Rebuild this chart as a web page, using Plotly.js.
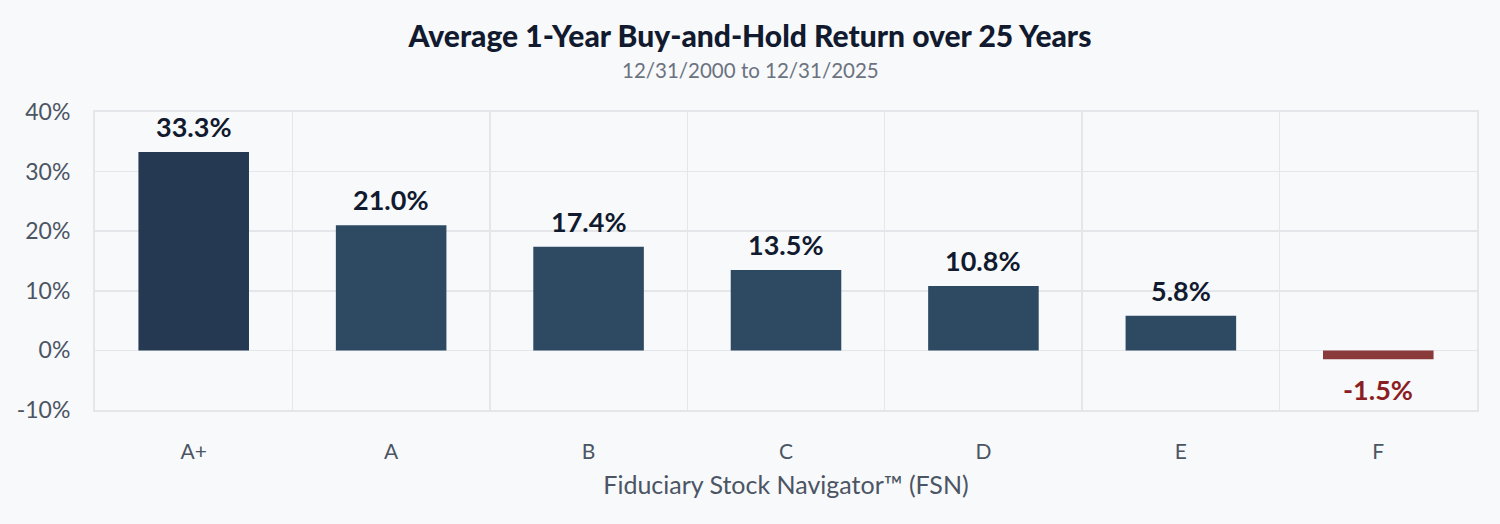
<!DOCTYPE html>
<html>
<head>
<meta charset="utf-8">
<script src="https://cdn.plot.ly/plotly-3.0.1.min.js"></script>
<style>
  html, body { margin: 0; padding: 0; background: #f8f9fb; }
  #chart { width: 1500px; height: 524px; }
</style>
</head>
<body>
<div id="chart"></div>
<script>
// FSN grades and the average 1-year return for each
const grades = ['A+', 'A', 'B', 'C', 'D', 'E', 'F'];
const avgReturn = [33.3, 21.0, 17.4, 13.5, 10.8, 5.8, -1.5];
const yTicks = [-10, 0, 10, 20, 30, 40];
const yTickText = ['-10%', '0%', '10%', '20%', '30%', '40%'];

const barColors = avgReturn.map((v, i) => v < 0 ? '#8b3a3c' : (i === 0 ? '#253a52' : '#2e4a63'));
const labelColors = avgReturn.map(v => v < 0 ? '#8b1e22' : '#111a2e');

let trace = {
  type: 'bar',
  x: grades,
  y: avgReturn,
  marker: { color: barColors },
  width: 0.56,
  hoverinfo: 'none'
};

// value labels above (or below) each bar
let valueLabels = grades.map((g, i) => ({
  x: g,
  y: avgReturn[i],
  xref: 'x',
  yref: 'y',
  text: '<b>' + avgReturn[i].toFixed(1) + '%</b>',
  showarrow: false,
  yanchor: avgReturn[i] < 0 ? 'top' : 'bottom',
  yshift: avgReturn[i] < 0 ? -12 : 7,
  font: { family: 'Lato', size: 27, color: labelColors[i] }
}));

// subtitle centred on the page, not on the plot area
let subtitle = {
  text: '12/31/2000 to 12/31/2025',
  xref: 'paper', yref: 'paper',
  x: 0.5, xshift: -36, y: 1, yanchor: 'middle', yshift: 42,
  showarrow: false,
  font: { family: 'Lato', size: 20.5, color: '#6b7280' }
};

let layout = {
  width: 1500,
  height: 524,
  paper_bgcolor: '#f8f9fb',
  plot_bgcolor: '#f8f9fb',
  margin: { l: 95, r: 23, t: 112, b: 114 },
  showlegend: false,
  font: { family: 'Lato', color: '#4b5563' },
  title: {
    text: 'Average 1-Year Buy-and-Hold Return over 25 Years',
    font: { family: 'Lato', size: 30, color: '#111a2e', weight: 900 },
    x: 0.5, xanchor: 'center',
    y: 0.93, yanchor: 'middle', yref: 'container'
  },
  annotations: valueLabels.concat([subtitle]),
  xaxis: {
    type: 'category',
    tickson: 'boundaries',
    showgrid: true,
    gridcolor: '#e4e6ea',
    gridwidth: 1.5,
    showline: true,
    linecolor: '#e4e6ea',
    linewidth: 2,
    mirror: true,
    ticks: '',
    ticklabelstandoff: 22,
    tickfont: { family: 'Lato', size: 21, color: '#4b5563' },
    title: {
      text: 'Fiduciary Stock Navigator™ (FSN)',
      font: { family: 'Lato', size: 25, color: '#4b5563' },
      standoff: 14
    }
  },
  yaxis: {
    range: [-10, 40],
    tickvals: yTicks,
    ticktext: yTickText,
    showgrid: true,
    gridcolor: '#e4e6ea',
    gridwidth: 1.5,
    zeroline: false,
    showline: true,
    linecolor: '#e4e6ea',
    linewidth: 2,
    mirror: true,
    ticks: '',
    ticklabelstandoff: 18,
    tickfont: { family: 'Lato', size: 23, color: '#4b5563' }
  }
};

Plotly.newPlot('chart', [trace], layout, { staticPlot: true, displayModeBar: false });
</script>
</body>
</html>
